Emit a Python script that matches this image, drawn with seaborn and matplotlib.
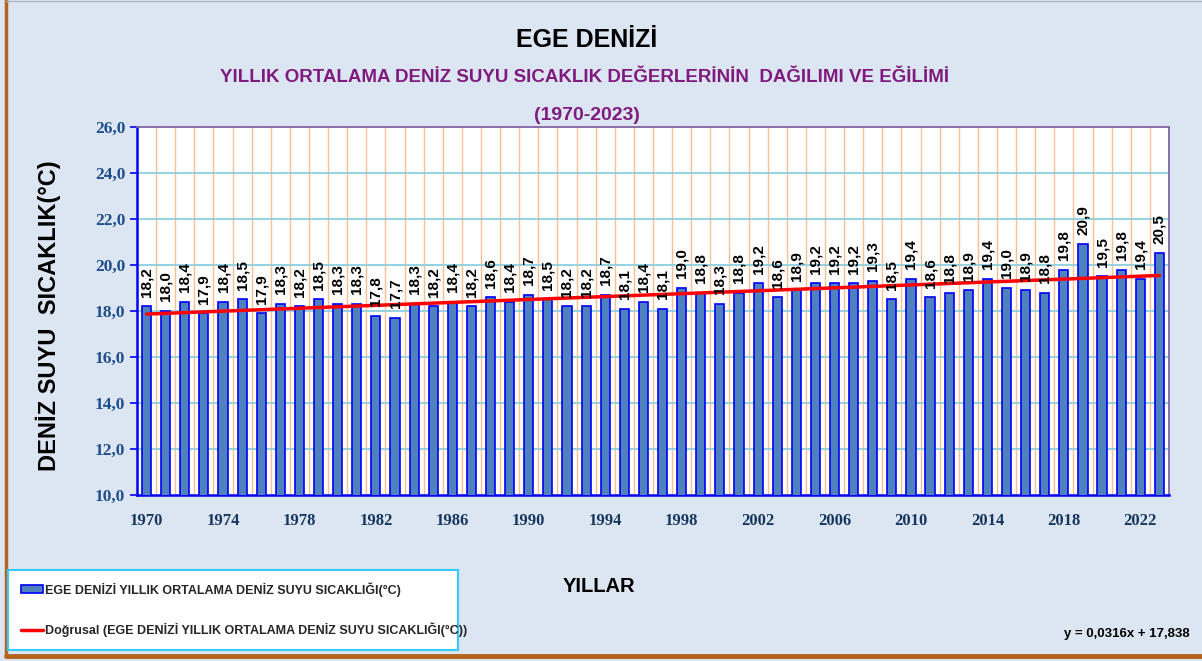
import numpy as np
import pandas as pd
import matplotlib
matplotlib.use('Agg')
import matplotlib.pyplot as plt
import seaborn as sns
from matplotlib.patches import Patch
from matplotlib.lines import Line2D

# Data (annual mean sea surface temperature, Aegean Sea)
years = list(range(1970, 2024))
temps = [18.2, 18.0, 18.4, 17.9, 18.4, 18.5, 17.9, 18.3, 18.2, 18.5,
         18.3, 18.3, 17.8, 17.7, 18.3, 18.2, 18.4, 18.2, 18.6, 18.4,
         18.7, 18.5, 18.2, 18.2, 18.7, 18.1, 18.4, 18.1, 19.0, 18.8,
         18.3, 18.8, 19.2, 18.6, 18.9, 19.2, 19.2, 19.2, 19.3, 18.5,
         19.4, 18.6, 18.8, 18.9, 19.4, 19.0, 18.9, 18.8, 19.8, 20.9,
         19.5, 19.8, 19.4, 20.5]
y_ticks = [10, 12, 14, 16, 18, 20, 22, 24, 26]
x_label_years = list(range(1970, 2024, 4))

series_name = 'EGE DENİZİ YILLIK ORTALAMA DENİZ SUYU SICAKLIĞI(°C)'
trend_name = 'Doğrusal (EGE DENİZİ YILLIK ORTALAMA DENİZ SUYU SICAKLIĞI(°C))'
equation = 'y = 0,0316x + 17,838'

df = pd.DataFrame({'year': years, 'temp': temps})

sns.set_theme(style='white')
plt.rcParams['font.family'] = ['Liberation Sans', 'DejaVu Sans']

BG = '#dce6f2'
fig = plt.figure(figsize=(12.02, 6.61), dpi=100, facecolor=BG)
ax = fig.add_axes([0.114, 0.251, 0.8585, 0.557])
ax.set_facecolor('white')

# brown frame on left and bottom, thin grey on top
fig.add_artist(Line2D([0.005, 0.005], [0.008, 1.0], transform=fig.transFigure,
                      color='#b4641e', linewidth=2.5))
fig.add_artist(Line2D([0.005, 1.0], [0.008, 0.008], transform=fig.transFigure,
                      color='#b4641e', linewidth=3.5))
fig.add_artist(Line2D([0.005, 1.0], [0.998, 0.998], transform=fig.transFigure,
                      color='#b0b8c4', linewidth=1.0))

sns.barplot(data=df, x='year', y='temp', native_scale=True, width=0.48,
            color='#4f81bd', edgecolor='#0000ff', linewidth=1.2,
            saturation=1, ax=ax, zorder=3)

# linear trend line over bar centres
sns.regplot(data=df, x='year', y='temp', scatter=False, ci=None, truncate=True,
            line_kws={'color': '#ff0000', 'linewidth': 2.5, 'zorder': 5}, ax=ax)

ax.set_xlim(1969.5, 2023.5)
ax.set_ylim(10, 26)

# grid: orange verticals between years, cyan horizontals
for b in np.arange(1970.5, 2023, 1.0):
    ax.axvline(b, color='#fbbf8e', linewidth=1.0, zorder=1)
for t in y_ticks[1:-1]:
    ax.axhline(t, color='#8fcfdf', linewidth=1.3, zorder=1)

# value labels
for yr, v in zip(years, temps):
    ax.text(yr, v + 0.42, f'{v:.1f}'.replace('.', ','), rotation=90,
            ha='center', va='bottom', fontsize=11, fontweight='bold',
            color='black', zorder=6)

ax.set_yticks(y_ticks)
ax.set_yticklabels([f'{t:.1f}'.replace('.', ',') for t in y_ticks],
                   family='Liberation Serif', fontweight='bold', fontsize=12.5,
                   color='#1f4e8c')
ax.set_xticks(x_label_years)
ax.set_xticklabels([str(y) for y in x_label_years], family='Liberation Serif',
                   fontweight='bold', fontsize=12, color='#17365d')
ax.set_xticks(np.arange(1969.5, 2024, 1.0), minor=True)
ax.tick_params(axis='x', which='major', length=0, pad=13)
ax.tick_params(axis='x', which='minor', length=5, color='#0000ff', width=1.2, direction='out')
ax.tick_params(axis='y', length=5, color='#0000ff', width=1.2, direction='out', left=True)
ax.set_xlabel('')
ax.set_ylabel('')

for side in ['left', 'bottom']:
    ax.spines[side].set_color('#0000ff')
    ax.spines[side].set_linewidth(1.8)
for side in ['top', 'right']:
    ax.spines[side].set_color('#8064a2')
    ax.spines[side].set_linewidth(1.3)

# titles
fig.text(0.488, 0.940, 'EGE DENİZİ', ha='center', va='center', fontsize=18,
         fontweight='bold', color='black')
fig.text(0.486, 0.883, 'YILLIK ORTALAMA DENİZ SUYU SICAKLIK DEĞERLERİNİN  DAĞILIMI VE EĞİLİMİ',
         ha='center', va='center', fontsize=13.5, fontweight='bold', color='#7f1a7f')
fig.text(0.488, 0.826, '(1970-2023)', ha='center', va='center', fontsize=14,
         fontweight='bold', color='#7f1a7f')

fig.text(0.040, 0.522, 'DENİZ SUYU  SICAKLIK(°C)', rotation=90, ha='center',
         va='center', fontsize=17, fontweight='bold', color='black')
fig.text(0.498, 0.113, 'YILLAR', ha='center', va='center', fontsize=14.5,
         fontweight='bold', color='black')
fig.text(0.990, 0.041, equation, ha='right', va='center', fontsize=9.5,
         fontweight='bold', color='black')

# legend box
handles = [Patch(facecolor='#4f81bd', edgecolor='#0000ff', linewidth=1.2),
           Line2D([0], [0], color='#ff0000', linewidth=2.5)]
leg = fig.legend(handles, [series_name, trend_name], loc='lower left',
                 bbox_to_anchor=(0.007, 0.017, 0.374, 0.117), mode='expand',
                 frameon=True, fancybox=False, fontsize=9, handlelength=1.8,
                 handleheight=0.6, handletextpad=0.1, labelspacing=2.1,
                 borderpad=1.0, borderaxespad=0)
leg.get_frame().set_edgecolor('#33ccff')
leg.get_frame().set_linewidth(1.5)
leg.get_frame().set_alpha(1)
for t in leg.get_texts():
    t.set_fontweight('bold')

fig.savefig('out.png', dpi=100, facecolor=BG)
